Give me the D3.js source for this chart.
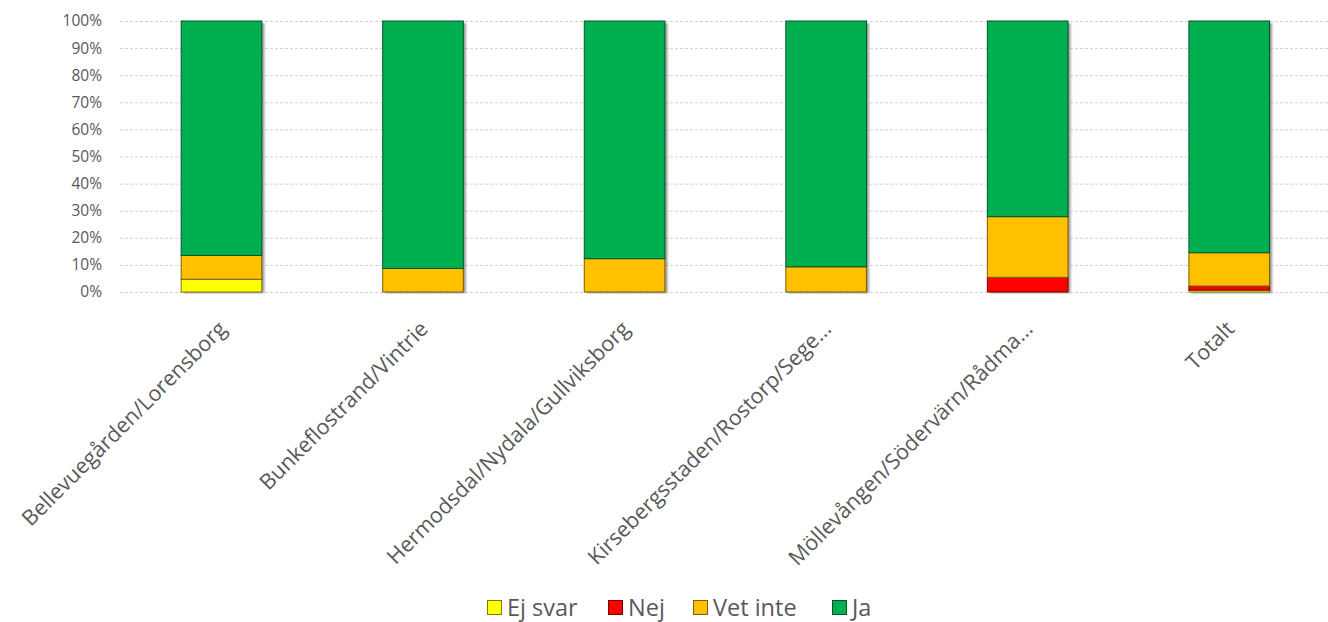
<!DOCTYPE html>
<html><head><meta charset="utf-8">
<script src="https://cdn.jsdelivr.net/npm/d3@7"></script>
<style>body{margin:0;background:#fff;} svg{display:block;}</style>
</head><body>
<svg id="chart" width="1328" height="622"></svg>
<script>
const categories = ["Bellevuegården/Lorensborg","Bunkeflostrand/Vintrie","Hermodsdal/Nydala/Gullviksborg","Kirsebergsstaden/Rostorp/Sege...","Möllevången/Södervärn/Rådma...","Totalt"];
const seriesNames = ["Ej svar","Nej","Vet inte","Ja"];
const seriesColors = ["#FFFF00","#FF0000","#FFC000","#00B050"];
const ejSvar  = [4.7, 0, 0, 0, 0, 0.7];
const nej     = [0, 0, 0, 0, 5.4, 1.5];
const vetInte = [8.8, 8.7, 12.3, 9.3, 22.4, 12.3];
const ja      = [86.5, 91.3, 87.7, 90.7, 72.2, 85.5];
const yTicks = [0,10,20,30,40,50,60,70,80,90,100];

const svg = d3.select("#chart");
const font = "'Open Sans', 'Liberation Sans', sans-serif";
const x = d3.scaleBand().domain(categories).range([120.7, 1330]).paddingInner(0.6).paddingOuter(0.3);
const y = d3.scaleLinear().domain([0,100]).range([292, 21]);

const defs = svg.append("defs");
const f = defs.append("filter").attr("id","sh").attr("x","-20%").attr("y","-5%").attr("width","140%").attr("height","110%");
f.append("feGaussianBlur").attr("stdDeviation",1.2);

// gridlines
svg.append("g").selectAll("line").data(yTicks).join("line")
  .attr("x1",120).attr("x2",1330).attr("y1",d=>y(d)+0.5).attr("y2",d=>y(d)+0.5)
  .attr("stroke","#d0d0d0").attr("stroke-width",1).attr("stroke-dasharray","3,2");

// y axis labels
const yAxis = d3.axisLeft(y).tickValues(yTicks).tickFormat(d=>d+"%").tickSize(0).tickPadding(0);
const ya = svg.append("g").attr("transform","translate(102,0)").call(yAxis);
ya.select(".domain").remove();
ya.selectAll("text").attr("font-family",font).attr("font-size",15.5).attr("fill","#595959");

const data = categories.map((c,i)=>({cat:c, "Ej svar":ejSvar[i], "Nej":nej[i], "Vet inte":vetInte[i], "Ja":ja[i]}));
const stack = d3.stack().keys(seriesNames)(data);

// shadows
svg.append("g").selectAll("rect").data(data).join("rect")
  .attr("x",d=>x(d.cat)+2.5).attr("width",x.bandwidth())
  .attr("y",y(100)+2).attr("height",y(0)-y(100)-1)
  .attr("fill","#6a6a6a").attr("opacity",0.7).attr("filter","url(#sh)");

// bars
svg.append("g").selectAll("g").data(stack).join("g")
  .attr("fill",(d,i)=>seriesColors[i])
  .attr("stroke",(d,i)=>d3.color(seriesColors[i]).darker(2))
  .selectAll("rect").data(d=>d.filter(p=>p[1]-p[0]>0)).join("rect")
  .attr("x",d=>x(d.data.cat)).attr("width",x.bandwidth())
  .attr("y",d=>y(d[1])).attr("height",d=>y(d[0])-y(d[1]))
  .attr("stroke-width",1);

// x labels
svg.append("g").selectAll("text").data(categories).join("text")
  .attr("transform",d=>`translate(${x(d)+x.bandwidth()/2+1},${325}) rotate(-45)`)
  .attr("text-anchor","end").attr("dy","0.35em")
  .attr("font-family",font).attr("font-size",21.5).attr("fill","#595959")
  .text(d=>d);

// legend
const legX = [487, 608, 693, 832];
const lg = svg.append("g").selectAll("g").data(seriesNames).join("g")
  .attr("transform",(d,i)=>`translate(${legX[i]},600)`);
lg.append("rect").attr("x",0.5).attr("y",0.5).attr("width",14).attr("height",14)
  .attr("fill",(d,i)=>seriesColors[i]).attr("stroke",(d,i)=>d3.color(seriesColors[i]).darker(2));
lg.append("text").attr("x",20).attr("y",8).attr("dy","0.35em")
  .attr("font-family",font).attr("font-size",23.5).attr("fill","#595959").text(d=>d);
</script>
</body></html>
